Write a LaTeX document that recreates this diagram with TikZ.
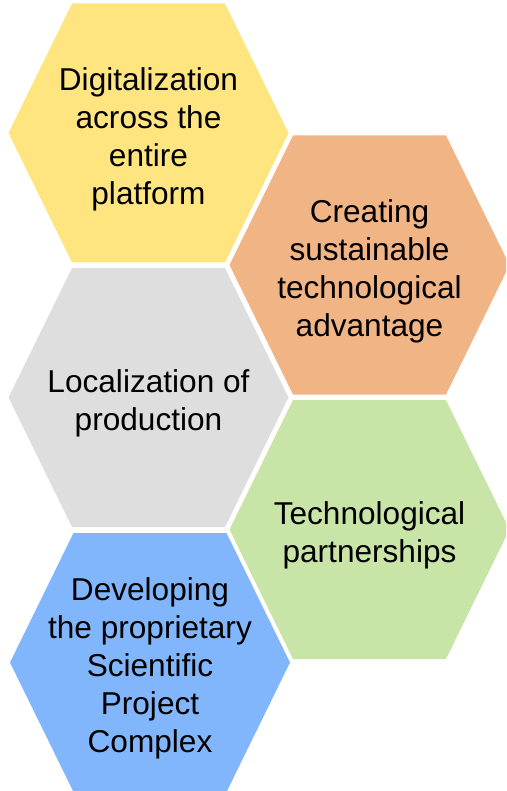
\documentclass[tikz,border=0pt]{standalone}
\usepackage{fontspec}
\setmainfont{Liberation Sans}
\definecolor{hexyellow}{RGB}{255,229,128}
\definecolor{hexorange}{RGB}{241,180,132}
\definecolor{hexgrey}{RGB}{222,222,222}
\definecolor{hexgreen}{RGB}{200,229,167}
\definecolor{hexblue}{RGB}{130,182,252}
\tikzset{
  celltext/.style={align=center, font=\fontsize{31.6}{38}\selectfont, text=black, inner sep=0pt, yshift=-6pt},
}
% #1 cx, #2 cy, #3 colour
\newcommand\hexcell[3]{%
  \fill[#3] ({#1-140},{#2}) -- ({#1-76.5},{#2-129.5}) -- ({#1+76.5},{#2-129.5})
    -- ({#1+140},{#2}) -- ({#1+76.5},{#2+129.5}) -- ({#1-76.5},{#2+129.5}) -- cycle;}
\begin{document}
\begin{tikzpicture}[x=1pt,y=-1pt]
  \useasboundingbox (0,0) rectangle (506,791);
  \clip (0,0) rectangle (506,791);
  \hexcell{148.5}{133}{hexyellow}
  \hexcell{369.5}{265}{hexorange}
  \hexcell{148.5}{397.5}{hexgrey}
  \hexcell{369.5}{529.5}{hexgreen}
  \hexcell{150}{662.5}{hexblue}
  \node[celltext] (digital) at (148.5,133) {Digitalization\\across the\\entire\\platform};
  \node[celltext] (advantage) at (369.5,265) {Creating\\sustainable\\technological\\advantage};
  \node[celltext] (local) at (148.5,397.5) {Localization of\\production};
  \node[celltext] (partner) at (369.5,529.5) {Technological\\partnerships};
  \node[celltext] (complex) at (150,662.5) {Developing\\the proprietary\\Scientific\\Project\\Complex};
\end{tikzpicture}
\end{document}
